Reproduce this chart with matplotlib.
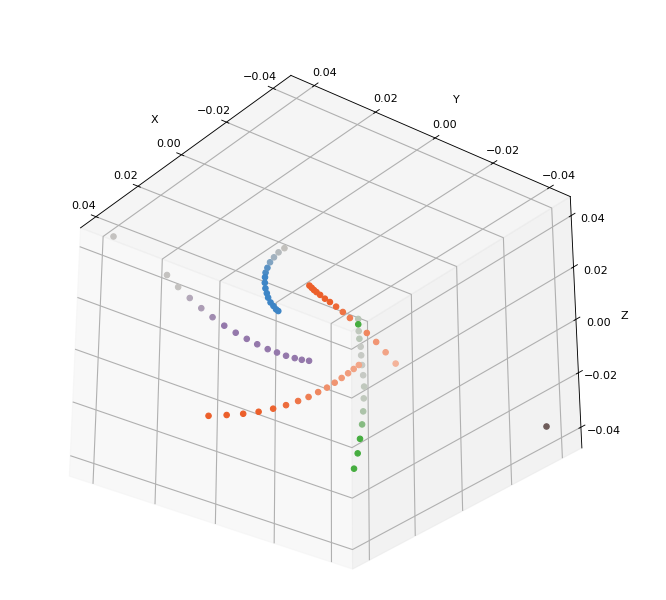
import numpy as np
import matplotlib
matplotlib.use('Agg')
import matplotlib.pyplot as plt
from matplotlib.colors import to_rgb

plt.rcParams['grid.linewidth'] = 1.0

ticks = [-0.04, -0.02, 0, 0.02, 0.04]

# trajectories
blue_x = [-0.0024, -0.0010, 0.0002, 0.0014, 0.0024, 0.0032, 0.0037, 0.0043, 0.0048, 0.0051, 0.0053, 0.0054, 0.0053, 0.0052, 0.0050]
blue_y = [0.0150, 0.0159, 0.0165, 0.0169, 0.0170, 0.0170, 0.0168, 0.0164, 0.0158, 0.0151, 0.0145, 0.0136, 0.0127, 0.0119, 0.0113]
blue_z = [0.0251, 0.0239, 0.0224, 0.0210, 0.0194, 0.0180, 0.0166, 0.0150, 0.0134, 0.0120, 0.0107, 0.0093, 0.0083, 0.0073, 0.0068]

orange2_x = [-0.0027, -0.0028, -0.0030, -0.0032, -0.0035, -0.0039, -0.0044, -0.0049, -0.0055, -0.0060, -0.0073, -0.0079, -0.0084, -0.0089]
orange2_y = [0.0068, 0.0061, 0.0055, 0.0048, 0.0038, 0.0025, 0.0012, -0.0005, -0.0023, -0.0043, -0.0090, -0.0117, -0.0145, -0.0175]
orange2_z = [0.0142, 0.0136, 0.0129, 0.0123, 0.0115, 0.0104, 0.0094, 0.0081, 0.0065, 0.0048, 0.0004, -0.0022, -0.0052, -0.0085]

orange1_x = [0.0271, 0.0240, 0.0212, 0.0185, 0.0158, 0.0133, 0.0109, 0.0088, 0.0067, 0.0048, 0.0030, 0.0014, -0.0001, -0.0015, -0.0027]
orange1_y = [0.0176, 0.0139, 0.0105, 0.0074, 0.0046, 0.0022, 0.0000, -0.0019, -0.0035, -0.0050, -0.0062, -0.0073, -0.0083, -0.0091, -0.0099]
orange1_z = [-0.0237, -0.0235, -0.0231, -0.0225, -0.0216, -0.0206, -0.0194, -0.0182, -0.0168, -0.0155, -0.0141, -0.0127, -0.0113, -0.0101, -0.0089]

purple_x = [0.0196, 0.0190, 0.0182, 0.0173, 0.0164, 0.0153, 0.0142, 0.0130, 0.0118, 0.0106, 0.0094, 0.0083, 0.0071, 0.0061, 0.0050]
purple_y = [0.0375, 0.0342, 0.0309, 0.0277, 0.0246, 0.0215, 0.0185, 0.0157, 0.0131, 0.0105, 0.0083, 0.0061, 0.0041, 0.0025, 0.0009]
purple_z = [0.0173, 0.0138, 0.0106, 0.0076, 0.0050, 0.0025, 0.0005, -0.0013, -0.0029, -0.0043, -0.0053, -0.0062, -0.0069, -0.0074, -0.0077]

green_x = [-0.0073, -0.0068, -0.0061, -0.0055, -0.0049, -0.0041, -0.0032, -0.0024, -0.0014, -0.0001, 0.0013, 0.0028, 0.0046, 0.0065, 0.0086]
green_y = [-0.0061, -0.0065, -0.0072, -0.0079, -0.0088, -0.0096, -0.0106, -0.0116, -0.0127, -0.0136, -0.0145, -0.0153, -0.0160, -0.0167, -0.0171]
green_z = [0.0045, 0.0029, 0.0010, -0.0013, -0.0036, -0.0061, -0.0089, -0.0119, -0.0152, -0.0186, -0.0224, -0.0262, -0.0304, -0.0346, -0.0391]

# two lone points
grey_pt = [0.0245, 0.0519, 0.0286]
brown_pt = [-0.0272, -0.0540, -0.0267]

# how much of the colour each point keeps (rest is the faded colour)
blue_keep = [0.0, 0.1, 0.25, 0.5, 0.8, 0.9, 1, 1, 1, 1, 1, 1, 1, 1, 1]
orange2_keep = [1, 1, 1, 1, 1, 1, 1, 0.9, 0.8, 0.7, 0.6, 0.45, 0.3, 0.15]
orange1_keep = [1, 1, 1, 1, 0.95, 0.85, 0.75, 0.65, 0.55, 0.45, 0.4, 0.35, 0.3, 0.25, 0.2]
purple_keep = [0.0, 0.0, 0.35, 0.5, 0.75, 1, 1, 1, 1, 1, 1, 1, 1, 1, 1]
green_keep = [0.1, 1, 0.05, 0.1, 0, 0, 0, 0, 0.05, 0.05, 0.2, 0.5, 1, 1, 1]


def fade(base, faded, keep):
    b = np.array(to_rgb(base))
    f = np.array(to_rgb(faded))
    return [tuple(k * b + (1 - k) * f) for k in keep]


fig = plt.figure(figsize=(8.325, 7.5), dpi=80)
ax = fig.add_axes([0.0245, -0.039, 0.899, 0.938], projection='3d')
ax.set_box_aspect((4, 4, 3.2))
ax.view_init(elev=-29, azim=142)

ax.scatter(purple_x, purple_y, purple_z, s=24, depthshade=False,
           c=fade('#9478ab', '#c4c2c0', purple_keep))
ax.scatter(blue_x, blue_y, blue_z, s=24, depthshade=False,
           c=fade('#3d85c6', '#c2c0bc', blue_keep))
ax.scatter(orange1_x, orange1_y, orange1_z, s=24, depthshade=False,
           c=fade('#ec5f2a', '#f3b8a0', orange1_keep))
ax.scatter(green_x, green_y, green_z, s=24, depthshade=False,
           c=fade('#45ad3f', '#c6c9c4', green_keep))
ax.scatter(orange2_x, orange2_y, orange2_z, s=24, depthshade=False,
           c=fade('#ec5f2a', '#f5c2ae', orange2_keep))
ax.scatter(*grey_pt, s=24, color='#c4c2c0', depthshade=False)
ax.scatter(*brown_pt, s=24, color='#6e5c5a', depthshade=False)

ax.set_xlim(-0.0475, 0.0475)
ax.set_ylim(-0.0475, 0.0475)
ax.set_zlim(-0.0475, 0.0475)
ax.set_xticks(ticks)
ax.set_yticks(ticks)
ax.set_zticks(ticks)
ax.set_xlabel('X')
ax.set_ylabel('Y')
ax.set_zlabel('Z')
fig.savefig('out.png', dpi=80)
